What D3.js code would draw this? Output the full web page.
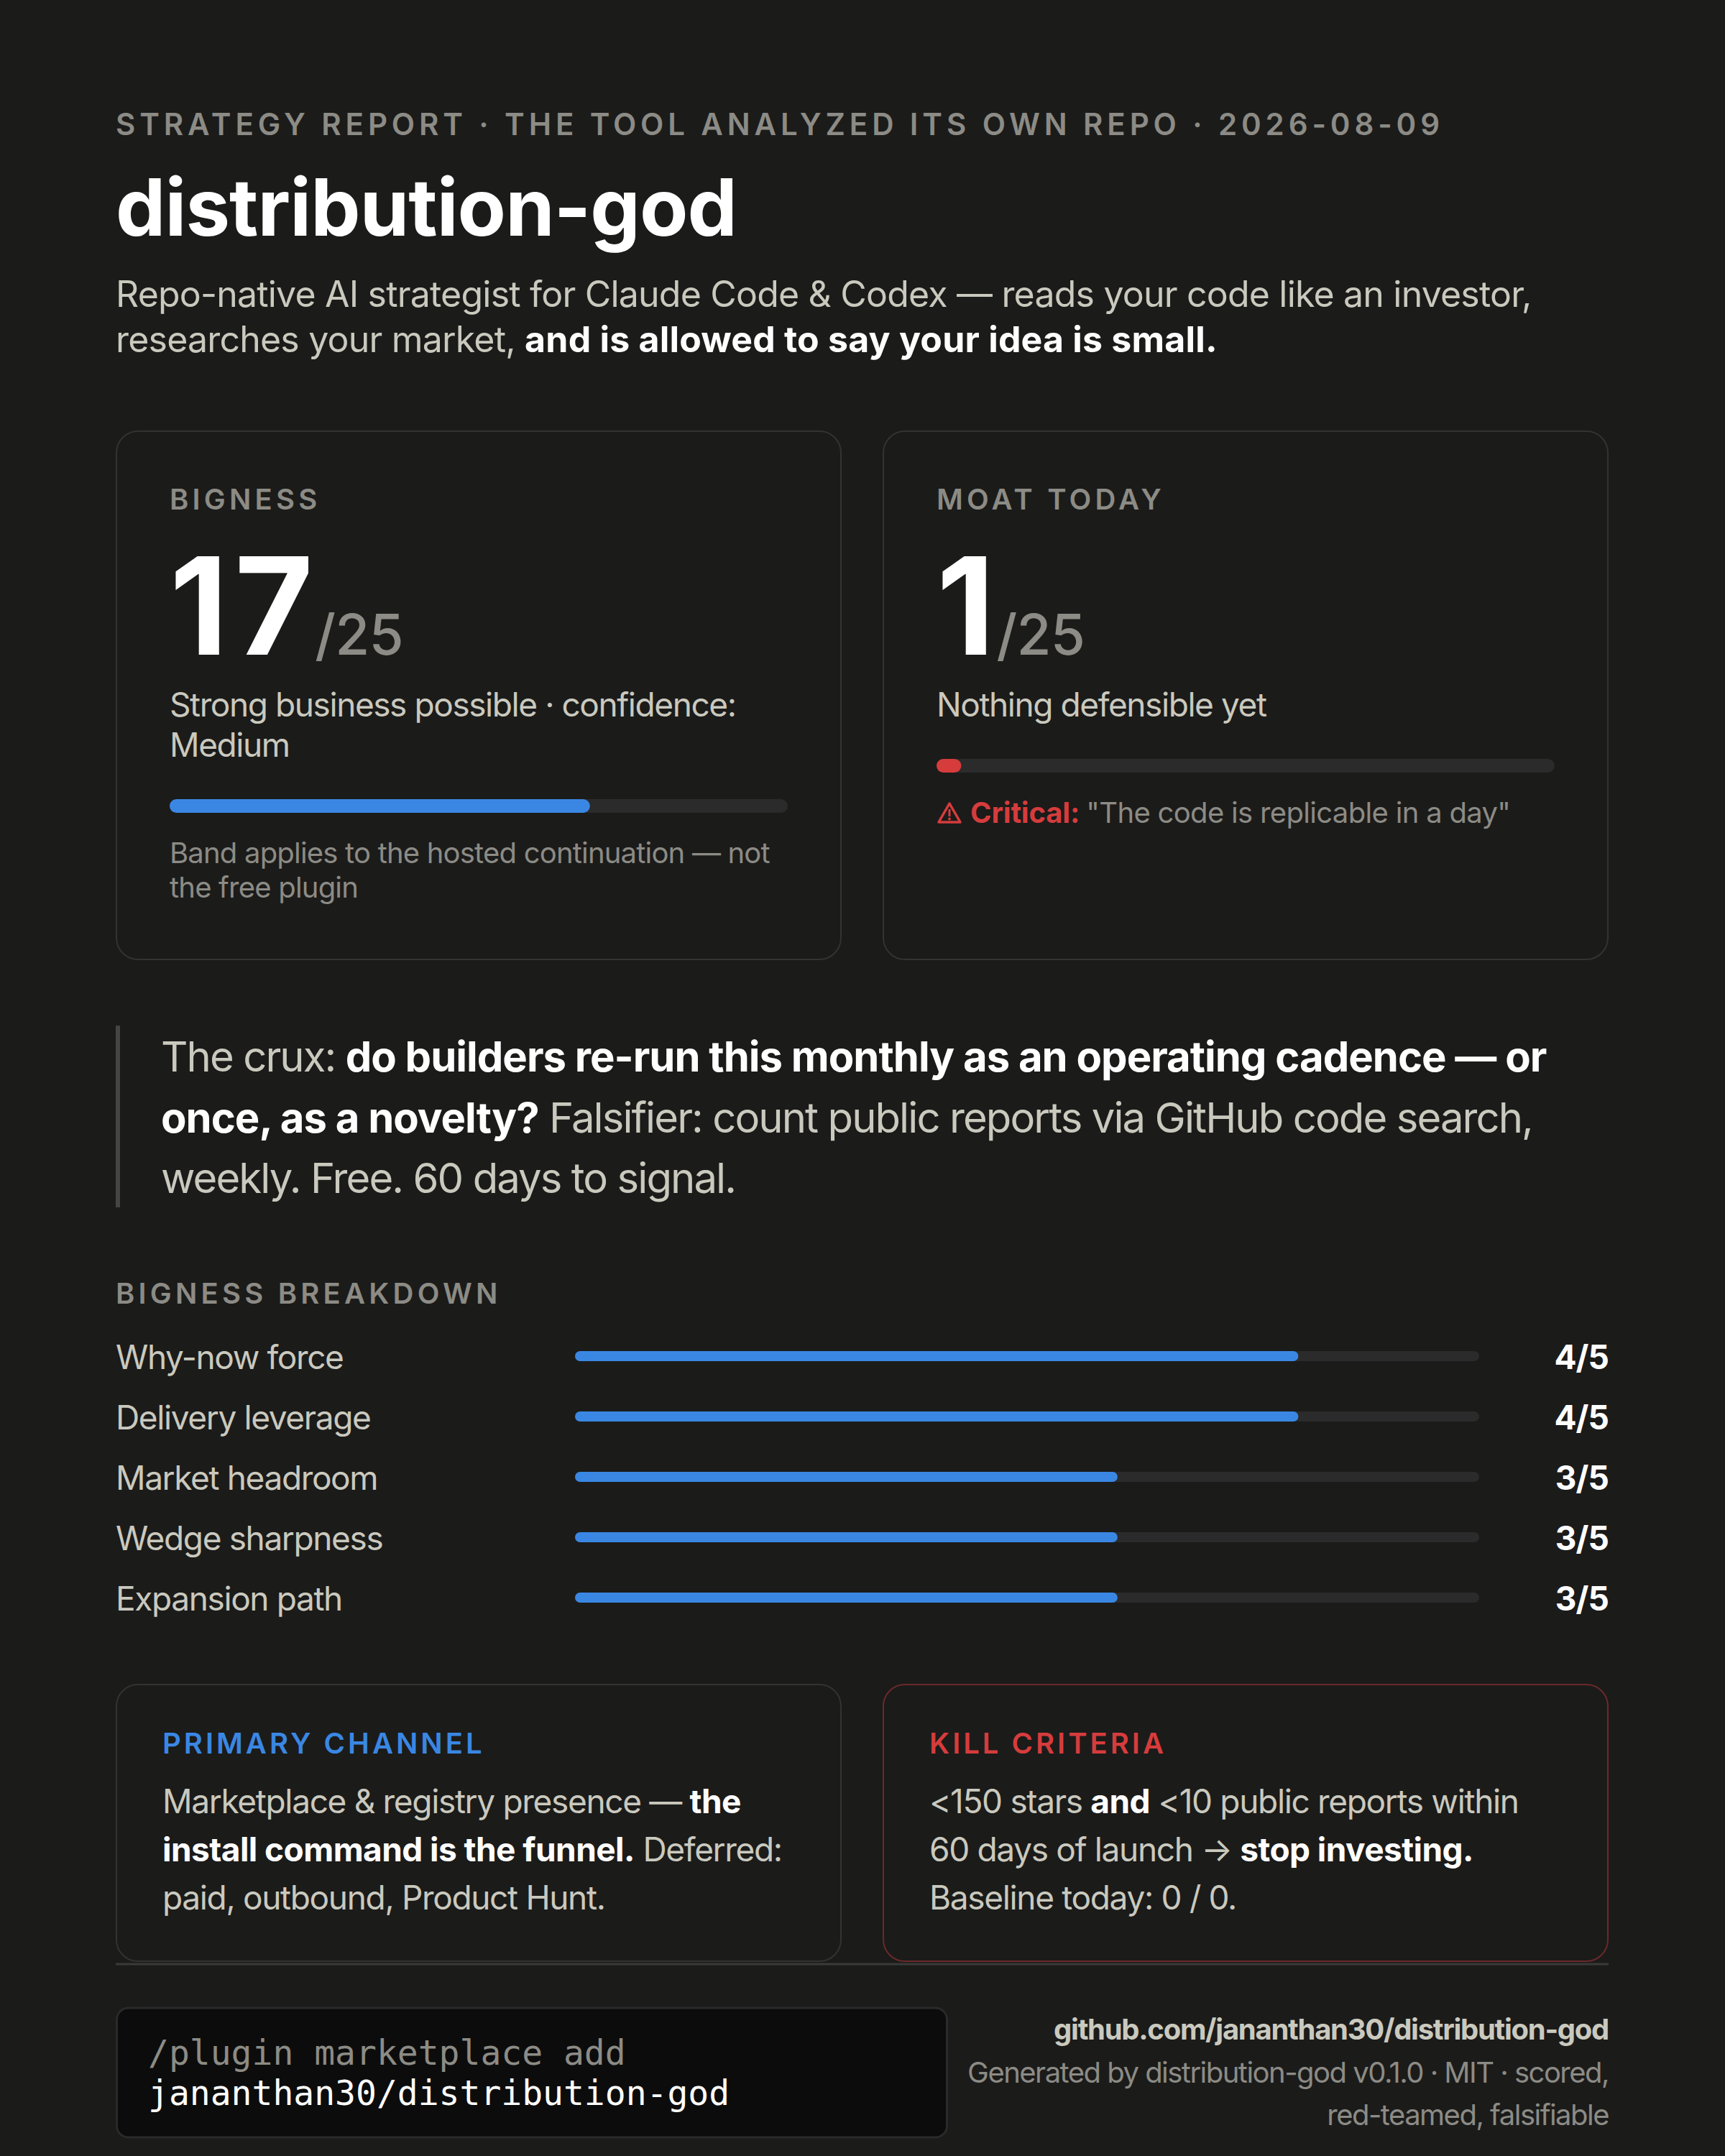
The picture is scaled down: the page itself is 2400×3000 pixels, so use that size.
<!DOCTYPE html>
<html>
<head>
<meta charset="utf-8">
<script src="https://cdn.jsdelivr.net/npm/d3@7"></script>
<style>
  html, body { margin: 0; padding: 0; background: #1b1b1a; }
  svg { display: block; }
  text { font-family: Inter, "Noto Sans", sans-serif; white-space: pre; }
  .mono { font-family: "DejaVu Sans Mono", "Liberation Mono", monospace; }
</style>
</head>
<body>
<div id="chart"></div>
<script>
// ---- data ----
var eyebrow = "STRATEGY REPORT · THE TOOL ANALYZED ITS OWN REPO · 2026-08-09";
var title = "distribution-god";
var tagline = [
  [["Repo-native AI strategist for Claude Code & Codex — reads your code like an investor,", "n"]],
  [["researches your market, ", "n"], ["and is allowed to say your idea is small.", "b"]]
];

var cardLabels = ["BIGNESS", "MOAT TODAY"];
var cardScores = [17, 1];
var cardMax = 25;
var cardVerdicts = [
  ["Strong business possible · confidence:", "Medium"],
  ["Nothing defensible yet"]
];
var cardBarColors = ["#3a87e3", "#d63c3c"];
var cardNotes = [
  [[["Band applies to the hosted continuation — not", "m"]], [["the free plugin", "m"]]],
  [[["Critical: ", "r"], ["\"The code is replicable in a day\"", "m"]]]
];

var cruxLines = [
  [["The crux: ", "n"], ["do builders re-run this monthly as an operating cadence — or", "b"]],
  [["once, as a novelty?", "b"], [" Falsifier: count public reports via GitHub code search,", "n"]],
  [["weekly. Free. 60 days to signal.", "n"]]
];

var breakdownTitle = "BIGNESS BREAKDOWN";
var breakdownLabels = ["Why-now force", "Delivery leverage", "Market headroom", "Wedge sharpness", "Expansion path"];
var breakdownScores = [4, 4, 3, 3, 3];
var breakdownMax = 5;

var bottomLabels = ["PRIMARY CHANNEL", "KILL CRITERIA"];
var bottomLines = [
  [
    [["Marketplace & registry presence — ", "n"], ["the", "b"]],
    [["install command is the funnel.", "b"], [" Deferred:", "n"]],
    [["paid, outbound, Product Hunt.", "n"]]
  ],
  [
    [["<150 stars ", "n"], ["and", "b"], [" <10 public reports within", "n"]],
    [["60 days of launch → ", "n"], ["stop investing.", "b"]],
    [["Baseline today: 0 / 0.", "n"]]
  ]
];

var codeLines = ["/plugin marketplace add", "jananthan30/distribution-god"];
var footerLink = "github.com/jananthan30/distribution-god";
var footerLines = ["Generated by distribution-god v0.1.0 · MIT · scored,", "red-teamed, falsifiable"];

// ---- style ----
var W = 2400, H = 3000;
var left = 161, right = 2238;
var colors = {
  bg: "#1b1b1a", card: "#1b1b1a", border: "#333332", track: "#2b2b2b",
  n: "#cac9be", b: "#ffffff", m: "#8c8b85", r: "#d63c3c",
  blue: "#3a87e3", red: "#d63c3c", redBorder: "#6a2a2a"
};

var svg = d3.select("#chart")
  .append("svg")
  .attr("width", W)
  .attr("height", H)
  .attr("viewBox", "0 0 " + W + " " + H);

svg.append("rect").attr("width", W).attr("height", H).attr("fill", colors.bg);

// lines = [[ [text, style], ... ], ...]; ls = [regular spacing, bold spacing]
function richLines(g, x, y0, lh, size, lines, ls) {
  ls = ls || ["-0.025em", "-0.015em"];
  lines.forEach(function (line, i) {
    var t = g.append("text")
      .attr("x", x)
      .attr("y", y0 + i * lh)
      .attr("font-size", size);
    line.forEach(function (seg) {
      var bold = (seg[1] == "b" || seg[1] == "r");
      t.append("tspan")
        .text(seg[0])
        .attr("fill", colors[seg[1]])
        .attr("letter-spacing", bold ? ls[1] : ls[0])
        .attr("font-weight", bold ? 700 : 400);
    });
  });
}

function capsLabel(g, x, y, txt, fill, ls) {
  return g.append("text")
    .attr("x", x).attr("y", y)
    .attr("font-size", 40)
    .attr("font-weight", 600)
    .attr("letter-spacing", ls || "0.13em")
    .attr("fill", fill)
    .text(txt);
}

// ---- header ----
svg.append("text")
  .attr("x", left).attr("y", 188)
  .attr("font-size", 42).attr("font-weight", 600)
  .attr("letter-spacing", "0.14em")
  .attr("fill", colors.m)
  .text(eyebrow);

svg.append("text")
  .attr("x", left).attr("y", 328)
  .attr("font-size", 110).attr("font-weight", 700)
  .attr("letter-spacing", "-0.008em")
  .attr("fill", "#fff")
  .text(title);

richLines(svg, left, 427, 63, 50, tagline, ["-0.016em", "0.004em"]);

// ---- score cards ----
var cardW = 1010, cardTop = 599, cardH = 737, pad = 75;
var innerW = cardW - pad * 2;
var xCard = d3.scaleLinear().domain([0, cardMax]).range([0, innerW]);

cardLabels.forEach(function (lab, i) {
  var cx = i == 0 ? left : right - cardW;
  var g = svg.append("g").attr("transform", "translate(" + cx + "," + cardTop + ")");

  g.append("rect")
    .attr("x", 1).attr("y", 1)
    .attr("width", cardW - 2).attr("height", cardH - 2)
    .attr("rx", 30)
    .attr("fill", colors.card)
    .attr("stroke", colors.border).attr("stroke-width", 2);

  capsLabel(g, pad, 110, lab, colors.m);

  var num = g.append("text")
    .attr("x", pad).attr("y", 312)
    .attr("fill", "#fff");
  num.append("tspan")
    .attr("font-size", 188).attr("font-weight", 700)
    .attr("letter-spacing", "0.05em")
    .text(cardScores[i]);
  num.append("tspan")
    .attr("font-size", 78).attr("font-weight", 500)
    .attr("fill", colors.m)
    .attr("letter-spacing", "-0.01em")
    .attr("dx", -7)
    .text("/" + cardMax);

  var verdicts = cardVerdicts[i];
  richLines(g, pad, 398, 56, 46, verdicts.map(function (v) { return [[v, "n"]]; }), ["-0.031em", "0"]);

  var barY = 398 + (verdicts.length - 1) * 56 + 59;
  g.append("rect")
    .attr("x", pad).attr("y", barY)
    .attr("width", xCard(cardMax)).attr("height", 19)
    .attr("rx", 9.5).attr("fill", colors.track);
  g.append("rect")
    .attr("x", pad).attr("y", barY)
    .attr("width", xCard(cardScores[i])).attr("height", 19)
    .attr("rx", 9.5).attr("fill", cardBarColors[i]);

  var noteY = barY + 19 + 70;
  var noteX = pad;
  if (i == 1) {
    // warning triangle icon
    var ic = g.append("g").attr("transform", "translate(" + (pad + 2) + "," + (noteY - 29) + ")");
    ic.append("path")
      .attr("d", "M16,2 L31,28 L1,28 Z")
      .attr("fill", "none")
      .attr("stroke", colors.red).attr("stroke-width", 3.5)
      .attr("stroke-linejoin", "round");
    ic.append("rect").attr("x", 14.5).attr("y", 10).attr("width", 3).attr("height", 10).attr("fill", colors.red);
    ic.append("circle").attr("cx", 16).attr("cy", 23.5).attr("r", 1.9).attr("fill", colors.red);
    noteX = pad + 47;
  }
  richLines(g, noteX, noteY, 48, 40, cardNotes[i], i == 0 ? ["-0.02em", "0"] : ["-0.017em", "-0.005em"]);
});

// ---- crux quote ----
svg.append("rect")
  .attr("x", left).attr("y", 1427)
  .attr("width", 6).attr("height", 253)
  .attr("fill", "#454544");
richLines(svg, 224, 1491, 84.5, 58, cruxLines, ["-0.033em", "-0.017em"]);

// ---- breakdown ----
capsLabel(svg, left, 1814, breakdownTitle, colors.m);

var rowStep = 84;
var yRow = d3.scaleBand()
  .domain(breakdownLabels)
  .range([1905, 1905 + rowStep * breakdownLabels.length]);
var xBar = d3.scaleLinear().domain([0, breakdownMax]).range([800, 2058]);
var barH = 14;

var rows = svg.selectAll(".row")
  .data(breakdownLabels)
  .enter()
  .append("g")
  .attr("class", "row")
  .attr("transform", function (d) { return "translate(0," + yRow(d) + ")"; });

rows.append("text")
  .attr("x", left).attr("y", 0)
  .attr("font-size", 46)
  .attr("letter-spacing", "-0.03em")
  .attr("fill", colors.n)
  .text(function (d) { return d; });

rows.append("rect")
  .attr("x", xBar(0)).attr("y", -18 - barH / 2)
  .attr("width", xBar(breakdownMax) - xBar(0)).attr("height", barH)
  .attr("rx", barH / 2).attr("fill", colors.track);

rows.append("rect")
  .attr("x", xBar(0)).attr("y", -18 - barH / 2)
  .attr("width", function (d, i) { return xBar(breakdownScores[i]) - xBar(0); })
  .attr("height", barH)
  .attr("rx", barH / 2).attr("fill", colors.blue);

rows.append("text")
  .attr("x", right).attr("y", 0)
  .attr("text-anchor", "end")
  .attr("font-size", 46).attr("font-weight", 700)
  .attr("letter-spacing", "-0.02em")
  .attr("fill", "#fff")
  .text(function (d, i) { return breakdownScores[i] + "/" + breakdownMax; });

// ---- bottom cards ----
var bTop = 2343, bH = 387, bPad = 65;
bottomLabels.forEach(function (lab, i) {
  var cx = i == 0 ? left : right - cardW;
  var g = svg.append("g").attr("transform", "translate(" + cx + "," + bTop + ")");
  g.append("rect")
    .attr("x", 1).attr("y", 1)
    .attr("width", cardW - 2).attr("height", bH - 2)
    .attr("rx", 30)
    .attr("fill", colors.card)
    .attr("stroke", i == 0 ? colors.border : colors.redBorder)
    .attr("stroke-width", 2);
  capsLabel(g, bPad, 97, lab, i == 0 ? colors.blue : colors.red, "0.1em");
  richLines(g, bPad, 180, 67, 46, bottomLines[i], ["-0.029em", "-0.012em"]);
});

// ---- footer ----
svg.append("line")
  .attr("x1", left).attr("x2", right)
  .attr("y1", 2733).attr("y2", 2733)
  .attr("stroke", "#3a3a39").attr("stroke-width", 3);

svg.append("rect")
  .attr("x", left + 1.5).attr("y", 2794)
  .attr("width", 1155).attr("height", 180)
  .attr("rx", 16)
  .attr("fill", "#0c0c0c")
  .attr("stroke", "#2a2a2a").attr("stroke-width", 3);

codeLines.forEach(function (c, i) {
  svg.append("text")
    .attr("class", "mono")
    .attr("x", 206).attr("y", 2873 + i * 56)
    .attr("font-size", 48)
    .attr("fill", i == 0 ? colors.m : "#fff")
    .text(c);
});

svg.append("text")
  .attr("x", right).attr("y", 2838)
  .attr("text-anchor", "end")
  .attr("font-size", 40).attr("font-weight", 700)
  .attr("letter-spacing", "-0.032em")
  .attr("fill", colors.n)
  .text(footerLink);

footerLines.forEach(function (f, i) {
  svg.append("text")
    .attr("x", right).attr("y", 2898 + i * 59)
    .attr("text-anchor", "end")
    .attr("font-size", 40)
    .attr("letter-spacing", "-0.038em")
    .attr("fill", colors.m)
    .text(f);
});
</script>
</body>
</html>
